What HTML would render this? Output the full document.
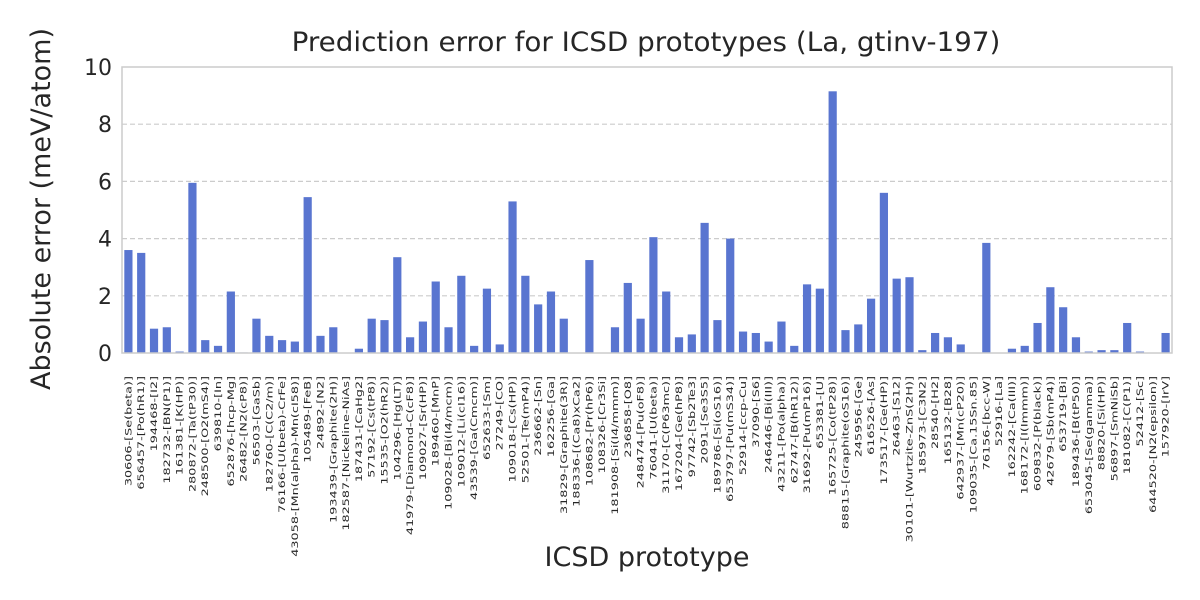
<!DOCTYPE html>
<html><head><meta charset="utf-8"><style>
body{margin:0;background:#fff;}
svg{display:block;font-family:"DejaVu Sans","Liberation Sans",sans-serif;}
</style></head><body>
<svg id="chart" width="1200" height="600" xmlns="http://www.w3.org/2000/svg">
<rect width="1200" height="600" fill="#fff"/>
<text x="646" y="51" text-anchor="middle" font-size="27" fill="#262626" transform="translate(646,0) scale(1.03,1) translate(-646,0)">Prediction error for ICSD prototypes (La, gtinv-197)</text>
<text x="647" y="566" text-anchor="middle" font-size="27" fill="#262626">ICSD prototype</text>
<text transform="translate(50,209) rotate(-90)" text-anchor="middle" font-size="27" fill="#262626">Absolute error (meV/atom)</text>
<g id="grid"></g><g id="bars"></g><g id="yticks"></g><g id="xticks"></g>
<rect x="122" y="67" width="1050" height="286" fill="none" stroke="#ccc" stroke-width="1.5"/>
</svg>
<script>
const categories=["30606-[Se(beta)]","656457-[Po(hR1)]","194468-[I2]","182732-[BN(P1)]","161381-[K(HP)]","280872-[Ta(tP30)]","248500-[O2(mS4)]","639810-[In]","652876-[hcp-Mg]","26482-[N2(cP8)]","56503-[GaSb]","182760-[C(C2/m)]","76166-[U(beta)-CrFe]","43058-[Mn(alpha)-Mn(cI58)]","105489-[FeB]","24892-[N2]","193439-[Graphite(2H)]","182587-[Nickeline-NiAs]","187431-[CaHg2]","57192-[Cs(tP8)]","15535-[O2(hR2)]","104296-[Hg(LT)]","41979-[Diamond-C(cF8)]","109027-[Sr(HP)]","189460-[MnP]","109028-[Bi(I4/mcm)]","109012-[Li(cI16)]","43539-[Ga(Cmcm)]","652633-[Sm]","27249-[CO]","109018-[Cs(HP)]","52501-[Te(mP4)]","236662-[Sn]","162256-[Ga]","31829-[Graphite(3R)]","188336-[(Ca8)xCa2]","108682-[Pr(hP6)]","108326-[Cr3Si]","181908-[Si(I4/mmm)]","236858-[O8]","248474-[Pu(oF8)]","76041-[U(beta)]","31170-[C(P63mc)]","167204-[Ge(hP8)]","97742-[Sb2Te3]","2091-[Se3S5]","189786-[Si(oS16)]","653797-[Pu(mS34)]","52914-[ccp-Cu]","37090-[S6]","246446-[Bi(III)]","43211-[Po(alpha)]","62747-[B(hR12)]","31692-[Pu(mP16)]","653381-[U]","165725-[Co(tP28)]","88815-[Graphite(oS16)]","245956-[Ge]","616526-[As]","173517-[Ge(HP)]","26463-[S12]","30101-[Wurtzite-ZnS(2H)]","185973-[C3N2]","28540-[H2]","165132-[B28]","642937-[Mn(cP20)]","109035-[Ca.15Sn.85]","76156-[bcc-W]","52916-[La]","162242-[Ca(III)]","168172-[I(Immm)]","609832-[P(black)]","42679-[Sb(mP4)]","653719-[Bi]","189436-[B(tP50)]","653045-[Se(gamma)]","88820-[Si(HP)]","56897-[SmNiSb]","181082-[C(P1)]","52412-[Sc]","644520-[N2(epsilon)]","157920-[IrV]"];
const values=[3.6,3.5,0.85,0.9,0.05,5.95,0.45,0.25,2.15,0.02,1.2,0.6,0.45,0.4,5.45,0.6,0.9,0.01,0.15,1.2,1.15,3.35,0.55,1.1,2.5,0.9,2.7,0.25,2.25,0.3,5.3,2.7,1.7,2.15,1.2,0.01,3.25,0.01,0.9,2.45,1.2,4.05,2.15,0.55,0.65,4.55,1.15,4.0,0.75,0.7,0.4,1.1,0.25,2.4,2.25,9.15,0.8,1.0,1.9,5.6,2.6,2.65,0.1,0.7,0.55,0.3,0.01,3.85,0.01,0.15,0.25,1.05,2.3,1.6,0.55,0.05,0.1,0.1,1.05,0.05,0.01,0.7];
const yTicks=[0,2,4,6,8,10];
const X0=122,X1=1172,Y0=353,Y1=67,YMAX=10;
const ns="http://www.w3.org/2000/svg";
const band=(X1-X0)/categories.length;
const xs=i=>X0+band*(i+0.5);
const ys=v=>Y0-(v/YMAX)*(Y0-Y1);
function mk(t,a,p){const e=document.createElementNS(ns,t);for(const k in a)e.setAttribute(k,a[k]);p.appendChild(e);return e;}
const g=document.getElementById('grid'),yt=document.getElementById('yticks');
yTicks.forEach(t=>{
  if(t>0&&t<YMAX){const l=mk('line',{x1:X0,x2:X1,y1:ys(t),y2:ys(t),stroke:'#ccc','stroke-width':1.2,'stroke-dasharray':'5,3'},g);
  
  }
  const tx=mk('text',{x:X0-10,y:ys(t)+8,'text-anchor':'end','font-size':22,fill:'#262626'},yt);
  tx.textContent=t;
  
  
});
const b=document.getElementById('bars'),xt=document.getElementById('xticks');
values.forEach((v,i)=>{
  const w=band*0.64;
  const r=mk('rect',{x:xs(i)-w/2,y:ys(v),width:w,height:Y0-ys(v),fill:'#5975d0'},b);
  
  
  const tx=mk('text',{transform:`translate(${xs(i)+3},376) rotate(-90) scale(1.28,0.85)`,'text-anchor':'end','font-size':10,fill:'#262626'},xt);
  tx.textContent=categories[i];
  
  
});
</script>
</body></html>
